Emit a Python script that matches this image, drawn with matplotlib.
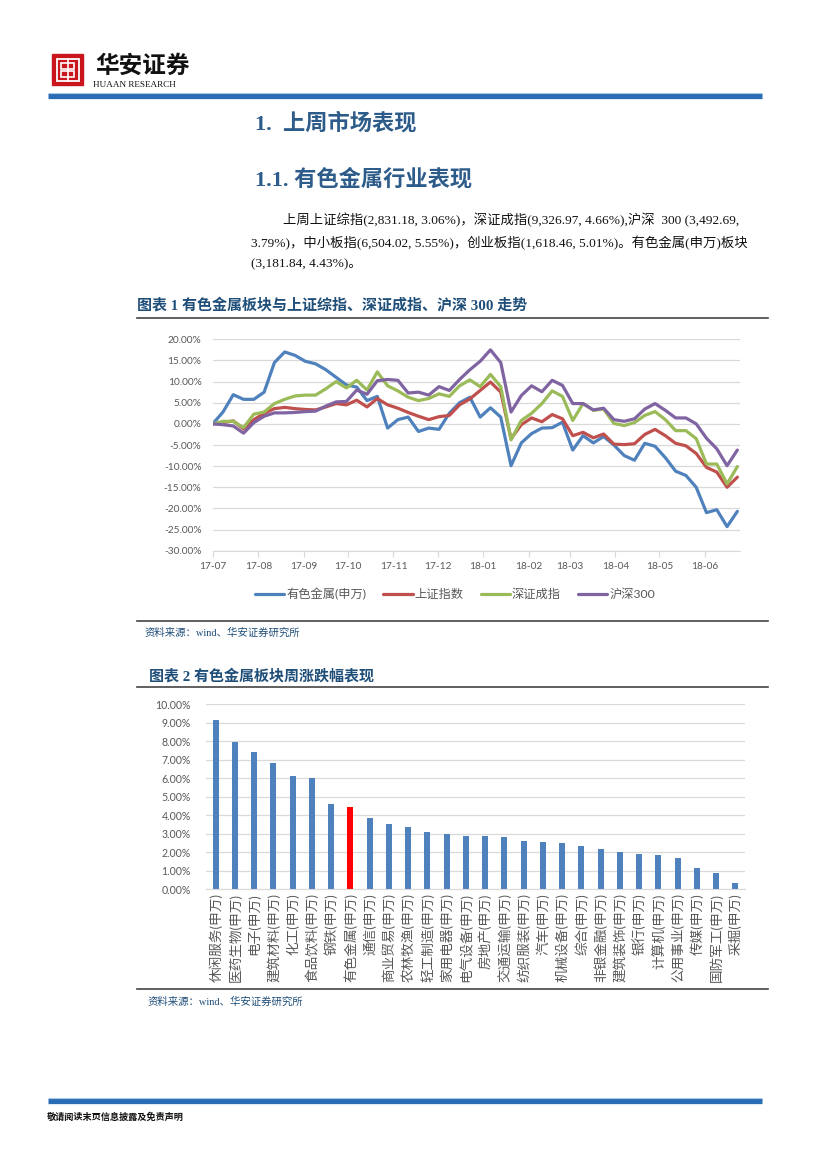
import matplotlib
matplotlib.use('Agg')
import matplotlib.pyplot as plt
import matplotlib.dates as mdates
from matplotlib.patches import Rectangle
from matplotlib.ticker import FuncFormatter, MultipleLocator
import pandas as pd

plt.rcParams['font.family'] = ['Lato', 'Noto Sans CJK SC', 'DejaVu Sans']

W, H = 827, 1169

# weekly closes, cumulative change in %
week_dates = pd.date_range('2017-07-01', periods=52, freq='7D')
metal = [0, 2.8, 6.9, 5.8, 5.8, 7.5, 14.5, 17.0, 16.2, 14.8, 14.2, 12.8, 11.0, 9.2,
         8.7, 5.5, 6.5, -1.0, 1.0, 1.6, -1.8, -1.0, -1.3, 2.5, 5.0, 6.3, 1.6, 3.8,
         1.6, -9.9, -4.5, -2.3, -1.0, -0.9, 0.4, -6.2, -2.8, -4.5, -3.0, -5.0, -7.5,
         -8.6, -4.6, -5.3, -8.0, -11.2, -12.2, -15.0, -21.0, -20.3, -24.3, -20.7]
sh_index = [0, 0.3, 0.7, -1.2, 1.0, 2.5, 3.6, 3.9, 3.6, 3.4, 3.3, 4.0, 4.8, 4.5,
            5.6, 4.0, 6.0, 4.5, 3.7, 2.7, 1.8, 1.0, 1.7, 2.0, 4.5, 5.9, 7.9, 9.9,
            7.5, -3.5, -0.2, 1.4, 0.5, 2.2, 1.2, -2.8, -2.0, -3.3, -2.4, -4.8, -4.9,
            -4.7, -2.5, -1.3, -2.8, -4.6, -5.2, -7.0, -10.3, -11.4, -15.0, -12.6]
sz_index = [0, 0.6, 0.6, -0.9, 2.3, 2.8, 4.8, 5.8, 6.6, 6.8, 6.8, 8.3, 10.0, 8.5,
            10.3, 8.0, 12.3, 9.0, 7.8, 6.3, 5.5, 6.0, 7.1, 6.5, 9.0, 10.4, 8.8, 11.7,
            8.8, -3.8, 0.8, 2.5, 4.8, 7.8, 6.5, 0.8, 4.8, 3.2, 3.5, 0.1, -0.4,
            0.3, 2.0, 2.9, 1.0, -1.6, -1.6, -3.5, -9.5, -9.5, -14.2, -10.1]
hs300 = [0, -0.2, -0.5, -2.2, 0.3, 1.8, 2.6, 2.6, 2.7, 2.9, 3.0, 4.2, 5.2, 5.3,
         8.0, 7.0, 10.2, 10.5, 10.3, 7.3, 7.5, 6.8, 8.8, 7.9, 10.5, 12.8, 14.8, 17.5,
         14.5, 2.8, 6.7, 9.0, 7.6, 10.3, 9.1, 4.8, 4.8, 3.3, 3.7, 1.0, 0.6,
         1.2, 3.5, 4.8, 3.2, 1.4, 1.4, 0.0, -3.4, -5.9, -9.9, -6.2]
series_names = ['有色金属(申万)', '上证指数', '深证成指', '沪深300']
series_colors = ['#4F81BD', '#C0504D', '#9BBB59', '#8064A2']

industries = ['休闲服务(申万)', '医药生物(申万)', '电子(申万)', '建筑材料(申万)', '化工(申万)',
              '食品饮料(申万)', '钢铁(申万)', '有色金属(申万)', '通信(申万)', '商业贸易(申万)',
              '农林牧渔(申万)', '轻工制造(申万)', '家用电器(申万)', '电气设备(申万)', '房地产(申万)',
              '交通运输(申万)', '纺织服装(申万)', '汽车(申万)', '机械设备(申万)', '综合(申万)',
              '非银金融(申万)', '建筑装饰(申万)', '银行(申万)', '计算机(申万)', '公用事业(申万)',
              '传媒(申万)', '国防军工(申万)', '采掘(申万)']
weekly_change = [9.15, 7.98, 7.44, 6.85, 6.13, 6.00, 4.61, 4.43, 3.84, 3.51, 3.39, 3.08,
                 2.97, 2.90, 2.86, 2.81, 2.61, 2.58, 2.49, 2.32, 2.16, 2.00, 1.93, 1.87,
                 1.69, 1.14, 0.90, 0.36]
highlight = '有色金属(申万)'

para_lines = ['上周上证综指(2,831.18, 3.06%)，深证成指(9,326.97, 4.66%),沪深  300 (3,492.69,',
              '3.79%)，中小板指(6,504.02, 5.55%)，创业板指(1,618.46, 5.01%)。有色金属(申万)板块',
              '(3,181.84, 4.43%)。']

SERIF = ['Liberation Serif', 'Noto Sans CJK SC']
HEAD_BLUE = '#2e5c8a'
TITLE_BLUE = '#1f4e79'
GRAY = '#595959'


def box(left, top, right, bottom):
    return [left / W, 1 - bottom / H, (right - left) / W, (bottom - top) / H]


fig = plt.figure(figsize=(8.27, 11.69), dpi=100)

# page furniture
page = fig.add_axes([0, 0, 1, 1])
page.set_xlim(0, W)
page.set_ylim(H, 0)
page.axis('off')

page.add_patch(Rectangle((52, 54), 31, 31, color='#c9161d'))
page.add_patch(Rectangle((56.5, 58.5), 22, 22, fill=False, ec='white', lw=1.3))
page.add_patch(Rectangle((61, 62.5), 13, 6, fill=False, ec='white', lw=1.2))
page.add_patch(Rectangle((61, 70.5), 13, 6, fill=False, ec='white', lw=1.2))
page.plot([67.5, 67.5], [58.5, 80.5], color='white', lw=1.2)
page.text(95, 66, '华安证券', fontsize=17, family=['Noto Sans CJK SC'], weight='bold',
          va='center', ha='left', color='#111111')
page.text(93, 85, 'HUAAN RESEARCH', fontsize=6.6, family=['Liberation Serif'],
          va='center', ha='left', color='#111111')
page.plot([48, 762], [96, 96], color='#2a6db5', lw=3.8, solid_capstyle='butt')
page.plot([48, 762], [93.3, 93.3], color='#a9cbe8', lw=0.8, solid_capstyle='butt')

page.text(255, 124, '1.  上周市场表现', fontsize=16, family=SERIF, weight='bold',
          color=HEAD_BLUE, va='center', ha='left')
page.text(255, 180, '1.1. 有色金属行业表现', fontsize=16, family=SERIF, weight='bold',
          color=HEAD_BLUE, va='center', ha='left')

para_x = [283, 251, 251]
para_y = [220, 243, 264]
for line, x, y in zip(para_lines, para_x, para_y):
    page.text(x, y, line, fontsize=9.6, family=SERIF, va='center', ha='left', color='#111111')

page.text(137, 306, '图表 1 有色金属板块与上证综指、深证成指、沪深 300 走势', fontsize=10.8,
          family=SERIF, weight='bold', color=TITLE_BLUE, va='center', ha='left')
page.plot([137, 768], [318, 318], color='#444444', lw=1.2)
page.plot([137, 768], [621, 621], color='#444444', lw=1.2)
page.text(145, 633, '资料来源：wind、华安证券研究所', fontsize=7.5, family=SERIF,
          color=TITLE_BLUE, va='center', ha='left')

page.text(149, 676, '图表 2 有色金属板块周涨跌幅表现', fontsize=10.8, family=SERIF,
          weight='bold', color=TITLE_BLUE, va='center', ha='left')
page.plot([137, 768], [687, 687], color='#444444', lw=1.2)
page.plot([137, 768], [989, 989], color='#444444', lw=1.2)
page.text(148, 1002, '资料来源：wind、华安证券研究所', fontsize=7.5, family=SERIF,
          color=TITLE_BLUE, va='center', ha='left')

page.plot([48, 762], [1101, 1101], color='#2a6db5', lw=3.8, solid_capstyle='butt')
page.plot([48, 762], [1098.3, 1098.3], color='#a9cbe8', lw=0.8, solid_capstyle='butt')
page.text(47, 1117, '敬请阅读末页信息披露及免责声明', fontsize=6.6, family=['Noto Sans CJK SC'],
          weight='bold', color='#111111', va='center', ha='left')

pct = FuncFormatter(lambda v, p: f'{v:.2f}%')

# chart 1: index trend
ax1 = fig.add_axes(box(212.7, 339.3, 740, 550.7))
handles = []
for vals, name, col in zip([metal, sh_index, sz_index, hs300], series_names, series_colors):
    h, = ax1.plot(week_dates, vals, color=col, lw=2.3, label=name,
                  solid_joinstyle='round', solid_capstyle='round')
    handles.append(h)
t0 = pd.Timestamp('2017-07-01')
ax1.set_xlim(t0, t0 + pd.Timedelta(days=358.8))
ax1.set_ylim(-30, 20)
ax1.yaxis.set_major_locator(MultipleLocator(5))
ax1.yaxis.set_major_formatter(pct)
ax1.xaxis.set_major_locator(mdates.MonthLocator())
ax1.xaxis.set_major_formatter(mdates.DateFormatter('%y-%m'))
ax1.grid(axis='y', color='#d9d9d9', lw=0.9)
ax1.set_axisbelow(True)
for s in ['top', 'right', 'left']:
    ax1.spines[s].set_visible(False)
ax1.spines['bottom'].set_color('#d9d9d9')
ax1.tick_params(axis='y', length=0, pad=8, labelsize=7.3, labelcolor=GRAY)
ax1.tick_params(axis='x', length=4, color='#d9d9d9', pad=4, labelsize=7.3, labelcolor=GRAY)

fig.legend(handles=handles, labels=series_names, loc='center',
           bbox_to_anchor=(455 / W, 1 - 594 / H), ncol=4, frameon=False,
           fontsize=8.8, handlelength=2.4, columnspacing=1.4, handletextpad=0.15,
           labelcolor=GRAY)

# chart 2: weekly sector change
ax2 = fig.add_axes(box(206, 704.3, 745, 889.3))
bar_colors = ['#FF0000' if n == highlight else '#4F81BD' for n in industries]
ax2.bar(range(len(industries)), weekly_change, width=0.31, color=bar_colors, zorder=2)
ax2.set_xlim(-0.5, len(industries) - 0.5)
ax2.set_ylim(0, 10)
ax2.yaxis.set_major_locator(MultipleLocator(1))
ax2.yaxis.set_major_formatter(pct)
ax2.set_xticks(range(len(industries)))
ax2.set_xticklabels(industries, rotation=90, va='top', ha='center')
ax2.grid(axis='y', color='#d9d9d9', lw=0.9)
ax2.set_axisbelow(True)
for s in ['top', 'right', 'left']:
    ax2.spines[s].set_visible(False)
ax2.spines['bottom'].set_color('#d9d9d9')
ax2.tick_params(axis='y', length=0, pad=11, labelsize=7.6, labelcolor=GRAY)
ax2.tick_params(axis='x', length=0, pad=3, labelsize=9.8, labelcolor=GRAY)

fig.savefig('out.png', dpi=100)
